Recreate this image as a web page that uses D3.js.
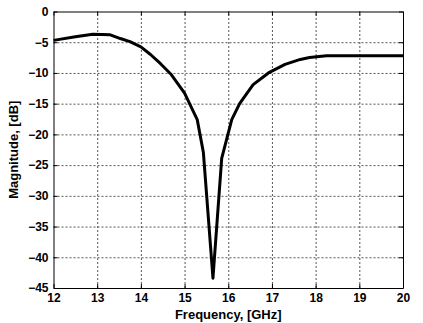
<!DOCTYPE html>
<html>
<head>
<meta charset="utf-8">
<script src="https://cdn.jsdelivr.net/npm/d3@7"></script>
<style>
  body { margin: 0; background: #fff; }
  text { font-family: "Liberation Sans", Arial, sans-serif; font-weight: bold; }
  .grid line { stroke: #555; stroke-dasharray: 2,2; stroke-width: 1; }
  .grid .domain { display: none; }
  .axis .domain { stroke: #000; }
  .axis text { font-size: 12px; fill: #000; }
</style>
</head>
<body>
<div id="chart"></div>
<script>
// Dados
const freq = [12, 12.5, 12.9, 13.3, 13.53, 13.75, 14.0, 14.22, 14.45, 14.7, 15.0, 15.29, 15.43, 15.65, 15.85, 16.08, 16.26, 16.57, 16.92, 17.3, 17.65, 17.86, 18.25, 19, 20];
const mag = [-4.7, -4.1, -3.7, -3.8, -4.4, -4.9, -5.75, -7.0, -8.5, -10.3, -13.3, -17.6, -22.9, -43.4, -23.9, -17.6, -15.0, -11.9, -10.0, -8.6, -7.8, -7.5, -7.2, -7.2, -7.2];
const xTicks = [12, 13, 14, 15, 16, 17, 18, 19, 20];
const yTicks = [0, -5, -10, -15, -20, -25, -30, -35, -40, -45];

const W = 423, H = 323;
const margin = { top: 11.5, right: 20, bottom: 35, left: 53.5 };
const width = W - margin.left - margin.right;
const height = H - margin.top - margin.bottom;

const svg = d3.select("#chart").append("svg")
    .attr("width", W).attr("height", H)
    .append("g")
    .attr("transform", `translate(${margin.left},${margin.top})`);

const x = d3.scaleLinear().domain([12, 20]).range([0, width]);
const y = d3.scaleLinear().domain([-45, 0]).range([height, 0]);

// Grade
svg.append("g").attr("class", "grid")
    .attr("transform", `translate(0,${height})`)
    .call(d3.axisBottom(x).tickValues(xTicks.slice(1, -1)).tickSize(-height).tickFormat(""));
svg.append("g").attr("class", "grid")
    .call(d3.axisLeft(y).tickValues(yTicks.slice(1, -1)).tickSize(-width).tickFormat(""));

// Eixos
svg.append("g").attr("class", "axis")
    .attr("transform", `translate(0,${height})`)
    .call(d3.axisBottom(x).tickValues(xTicks).tickSize(-4).tickPadding(5).tickSizeOuter(0));
svg.append("g").attr("class", "axis")
    .call(d3.axisLeft(y).tickValues(yTicks).tickSize(-4).tickPadding(5).tickSizeOuter(0));
svg.append("g").attr("class", "axis")
    .call(d3.axisTop(x).tickValues(xTicks).tickSize(-4).tickFormat("").tickSizeOuter(0));
svg.append("g").attr("class", "axis")
    .attr("transform", `translate(${width},0)`)
    .call(d3.axisRight(y).tickValues(yTicks).tickSize(-4).tickFormat("").tickSizeOuter(0));

// Curva
const line = d3.line().x((d, i) => x(freq[i])).y(d => y(d));
svg.append("path")
    .datum(mag)
    .attr("fill", "none")
    .attr("stroke", "#000")
    .attr("stroke-width", 3)
    .attr("stroke-linejoin", "round")
    .attr("d", line);

// Títulos
svg.append("text")
    .attr("x", width / 2).attr("y", height + 31)
    .attr("text-anchor", "middle").attr("font-size", "13px")
    .text("Frequency, [GHz]");
svg.append("text")
    .attr("transform", `translate(${-36},${height / 2}) rotate(-90)`)
    .attr("text-anchor", "middle").attr("font-size", "13px")
    .text("Magnitude, [dB]");
</script>
</body>
</html>
